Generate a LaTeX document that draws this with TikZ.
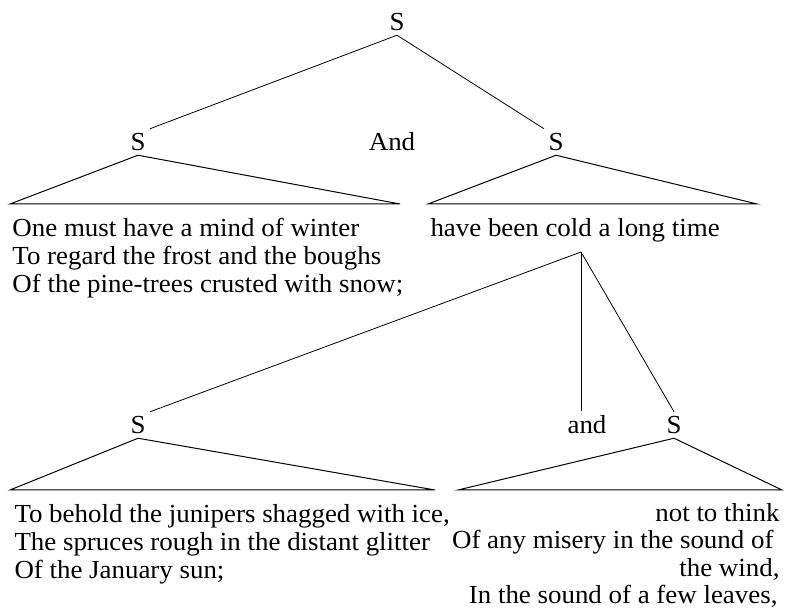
\documentclass[tikz,border=0pt]{standalone}
\usepackage{fontspec}
\setmainfont[FakeStretch=1.035]{Liberation Serif}
\usetikzlibrary{positioning}

\begin{document}
\begin{tikzpicture}[
    x=1pt, y=1pt, line width=1pt,
    font=\fontsize{26}{27.8}\selectfont,
    cat/.style={inner sep=4pt},
    conj/.style={inner sep=4pt},
    verse/.style={anchor=north west, align=flush left, inner sep=0pt},
    tri/.style={draw, line join=miter},
    branch/.style={draw, line width=0.8pt},
]
\useasboundingbox (0,0) rectangle (786,609);

% top sentence
\node[cat] (top) at (397,587) {S};
\node[cat] (sA) at (138,467) {S};
\node[conj] (and1) at (392,467) {And};
\node[cat] (sB) at (556,467) {S};
\draw[branch] (top.south) -- (sA.north east);
\draw[branch] (top.south) -- (sB.north west);

% first clause
\coordinate (aL) at (10,405);
\coordinate (aR) at (400,405);
\draw[tri] (sA.south) -- (aL) -- (aR) -- cycle;
\node[verse] (txtA) at (12,391) {One must have a mind of winter\\
    To regard the frost and the boughs\\
    Of the pine-trees crusted with snow;};

% second clause
\coordinate (bL) at (428,405);
\coordinate (bR) at (757,405);
\draw[tri] (sB.south) -- (bL) -- (bR) -- cycle;
\node[verse] (txtB) at (430,391) {have been cold a long time};

% lower tree
\coordinate (fork) at (581,357);
\node[cat] (sC) at (138,184) {S};
\node[conj] (and2) at (587,184) {and};
\node[cat] (sD) at (674,184) {S};
\draw[branch] (fork) -- (sC.north east);
\draw[branch, line width=0.6pt] (fork) -- (fork |- and2.north);
\draw[branch] (fork) -- (sD.north);

\coordinate (cL) at (10,119);
\coordinate (cR) at (435,119);
\draw[tri] (sC.south) -- (cL) -- (cR) -- cycle;
\node[verse] (txtC) at (14,105) {To behold the junipers shagged with ice,\\
    The spruces rough in the distant glitter\\
    Of the January sun;};

\coordinate (dL) at (458,119);
\coordinate (dR) at (782,119);
\draw[tri] (sD.south) -- (dL) -- (dR) -- cycle;
\node[verse, anchor=north east, align=flush right, font=\fontsize{26}{27.4}\selectfont]
    (txtD) at (780,106) {not to think\\
    Of any misery in the sound of\rule{6pt}{0pt}\\
    the wind,\\
    In the sound of a few leaves,\rule{2pt}{0pt}};
\end{tikzpicture}
\end{document}
